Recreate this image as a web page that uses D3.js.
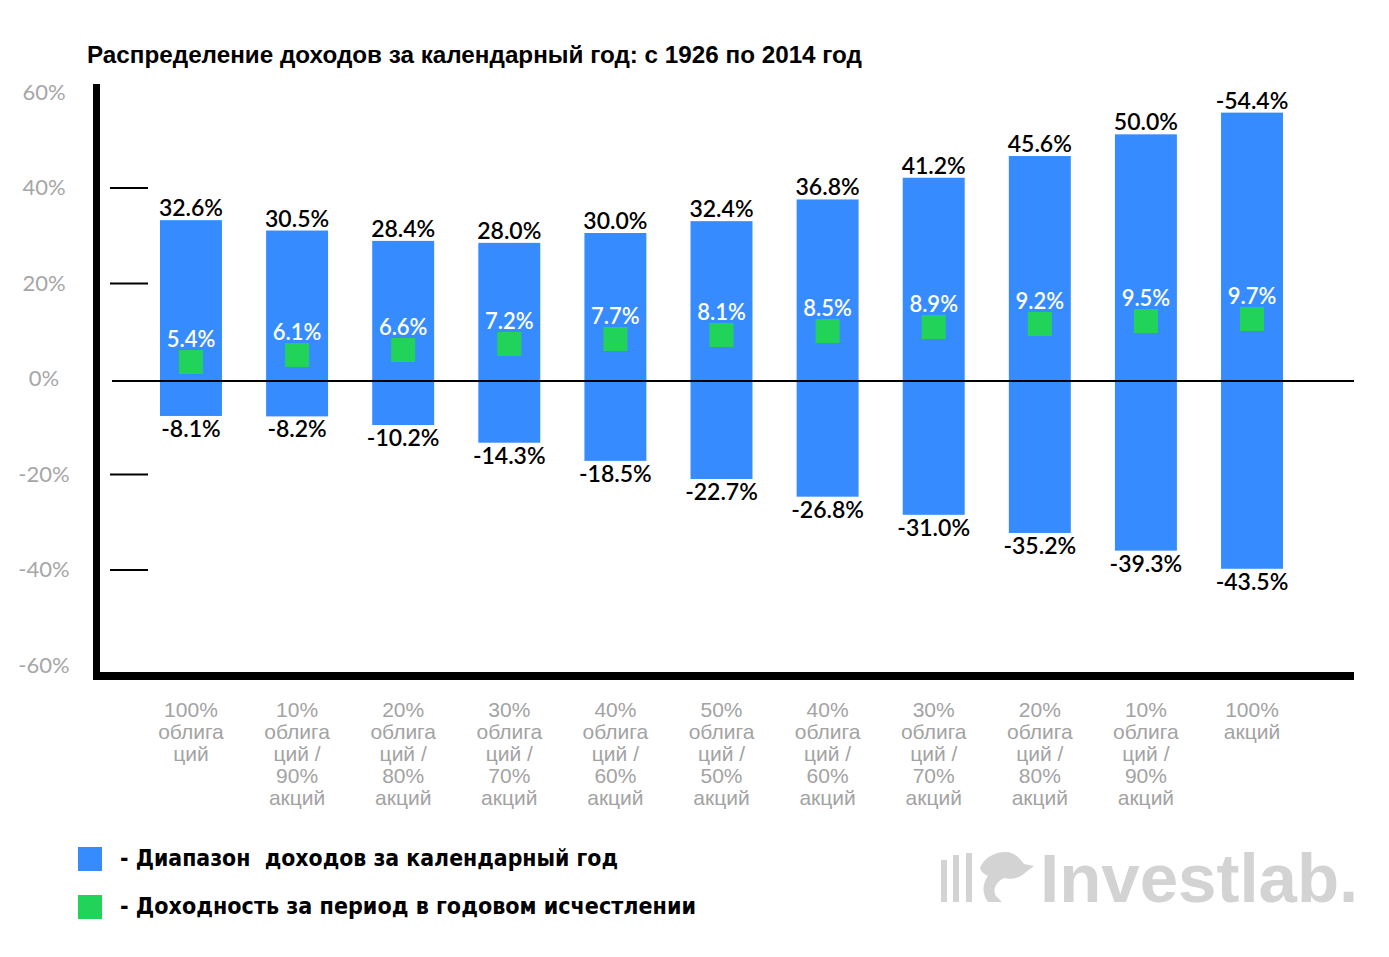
<!DOCTYPE html>
<html>
<head>
<meta charset="utf-8">
<script src="https://cdn.jsdelivr.net/npm/d3@7"></script>
<style>
  html, body { margin: 0; padding: 0; background: #fff; }
  svg { display: block; }
</style>
</head>
<body>
<div id="chart"></div>
<script>
'use strict';

// --- data ---
const categories = [
  ['100%', 'облига', 'ций'],
  ['10%', 'облига', 'ций /', '90%', 'акций'],
  ['20%', 'облига', 'ций /', '80%', 'акций'],
  ['30%', 'облига', 'ций /', '70%', 'акций'],
  ['40%', 'облига', 'ций /', '60%', 'акций'],
  ['50%', 'облига', 'ций /', '50%', 'акций'],
  ['40%', 'облига', 'ций /', '60%', 'акций'],
  ['30%', 'облига', 'ций /', '70%', 'акций'],
  ['20%', 'облига', 'ций /', '80%', 'акций'],
  ['10%', 'облига', 'ций /', '90%', 'акций'],
  ['100%', 'акций']
];
const highs = [32.6, 30.5, 28.4, 28.0, 30.0, 32.4, 36.8, 41.2, 45.6, 50.0, 54.4];
const lows = [-8.1, -8.2, -10.2, -14.3, -18.5, -22.7, -26.8, -31.0, -35.2, -39.3, -43.5];
const averages = [5.4, 6.1, 6.6, 7.2, 7.7, 8.1, 8.5, 8.9, 9.2, 9.5, 9.7];
// the original prints the last top value with a minus sign
const highLabels = ['32.6%', '30.5%', '28.4%', '28.0%', '30.0%', '32.4%', '36.8%', '41.2%', '45.6%', '50.0%', '-54.4%'];
const yTicks = [60, 40, 20, 0, -20, -40, -60];
const yMarks = [40, 20, -20, -40];

const title = 'Распределение доходов за календарный год: с 1926 по 2014 год';
const legendItems = [
  { color: '#368cff', text: '- Диапазон  доходов за календарный год' },
  { color: '#22d35a', text: '- Доходность за период в годовом исчестлении' }
];

const W = 1389, H = 957;
const BLUE = '#368cff', GREEN = '#22d35a';
const pct = (v) => v.toFixed(1) + '%';

const svg = d3.select('#chart').append('svg')
  .attr('width', W).attr('height', H);

const idx = d3.range(categories.length);

// scales
const x = d3.scaleBand().domain(idx).range([160, 1283])
  .paddingInner(0.416).paddingOuter(0);
// the picture is drawn with different steps above and below zero
const yBar = d3.scaleLinear().domain([-60, 0, 60]).range([640, 381, 85]);
const yAxisScale = d3.scaleLinear().domain([-60, 60]).range([665, 92]);
// green markers sit on their own (steeper) step in the original
const yAvg = d3.scaleLinear().domain([0, 10]).range([416, 316]);

// title
svg.append('text')
  .attr('x', 87).attr('y', 63)
  .attr('font-family', 'Liberation Sans, Arial, sans-serif')
  .attr('font-weight', 'bold')
  .attr('font-size', 24)
  .attr('textLength', 775)
  .attr('lengthAdjust', 'spacingAndGlyphs')
  .attr('fill', '#000')
  .text(title);

// gray y labels
const yLab = svg.append('g').attr('transform', 'translate(44,0)')
  .call(d3.axisLeft(yAxisScale).tickValues(yTicks).tickSize(0)
    .tickFormat((d) => d + '%'));
yLab.select('.domain').remove();
yLab.selectAll('text')
  .attr('x', 0)
  .attr('text-anchor', 'middle')
  .attr('font-family', 'Lato, sans-serif')
  .attr('font-size', 22)
  .attr('fill', '#a6a6a6');

// short tick marks
const yTk = svg.append('g').attr('transform', 'translate(110,0)')
  .call(d3.axisRight(yAxisScale).tickValues(yMarks).tickSize(38).tickFormat(''));
yTk.select('.domain').remove();
yTk.selectAll('line').attr('stroke', '#000').attr('stroke-width', 2);

// bars
svg.append('g').selectAll('rect')
  .data(idx).enter().append('rect')
  .attr('x', (i) => x(i))
  .attr('width', x.bandwidth())
  .attr('y', (i) => yBar(highs[i]))
  .attr('height', (i) => yBar(lows[i]) - yBar(highs[i]))
  .attr('fill', BLUE);

// zero line
svg.append('line')
  .attr('x1', 112).attr('x2', 1354)
  .attr('y1', yBar(0)).attr('y2', yBar(0))
  .attr('stroke', '#000').attr('stroke-width', 2);

// average markers
const sq = 24;
svg.append('g').selectAll('rect')
  .data(idx).enter().append('rect')
  .attr('x', (i) => x(i) + x.bandwidth() / 2 - sq / 2)
  .attr('y', (i) => yAvg(averages[i]) - sq / 2)
  .attr('width', sq).attr('height', sq)
  .attr('fill', GREEN);

const valueText = (sel) => sel
  .attr('text-anchor', 'middle')
  .attr('font-family', 'Lato, sans-serif')
  .attr('font-weight', 600)
  .attr('font-size', 23);

const labels = svg.append('g');
labels.selectAll('.hi').data(idx).enter().append('text').attr('class', 'hi')
  .call(valueText)
  .attr('x', (i) => x(i) + x.bandwidth() / 2)
  .attr('y', (i) => yBar(highs[i]) - 4)
  .attr('fill', '#000')
  .text((i) => highLabels[i]);

labels.selectAll('.lo').data(idx).enter().append('text').attr('class', 'lo')
  .call(valueText)
  .attr('x', (i) => x(i) + x.bandwidth() / 2)
  .attr('y', (i) => yBar(lows[i]) + 21)
  .attr('fill', '#000')
  .text((i) => pct(lows[i]));

labels.selectAll('.avg').data(idx).enter().append('text').attr('class', 'avg')
  .call(valueText)
  .attr('font-size', 22)
  .attr('x', (i) => x(i) + x.bandwidth() / 2)
  .attr('y', (i) => yAvg(averages[i]) - sq / 2 - 3)
  .attr('fill', '#fff')
  .text((i) => pct(averages[i]));

// frame axes (thick)
svg.append('line')
  .attr('x1', 96.5).attr('x2', 96.5).attr('y1', 84).attr('y2', 680)
  .attr('stroke', '#000').attr('stroke-width', 7);
svg.append('line')
  .attr('x1', 93).attr('x2', 1354).attr('y1', 676).attr('y2', 676)
  .attr('stroke', '#000').attr('stroke-width', 8);

// category labels
const catG = svg.append('g').selectAll('text')
  .data(idx).enter().append('text')
  .attr('text-anchor', 'middle')
  .attr('font-family', 'Liberation Sans, Arial, sans-serif')
  .attr('font-size', 21)
  .attr('fill', '#a3a3a3')
  .attr('transform', (i) => `translate(${x(i) + x.bandwidth() / 2},717)`);
catG.selectAll('tspan')
  .data((i) => categories[i]).enter().append('tspan')
  .attr('x', 0)
  .attr('y', (d, j) => j * 22)
  .text((d) => d);

// legend
const legend = svg.append('g').attr('transform', 'translate(78,847)');
const lg = legend.selectAll('g').data(legendItems).enter().append('g')
  .attr('transform', (d, i) => `translate(0,${i * 48})`);
lg.append('rect').attr('width', 24).attr('height', 24)
  .attr('fill', (d) => d.color);
lg.append('text')
  .attr('x', 42).attr('y', 19)
  .attr('font-family', 'Liberation Sans Narrow, DejaVu Sans Condensed, Liberation Sans, sans-serif')
  .attr('font-weight', 'bold')
  .attr('font-size', 23)
  .attr('fill', '#000')
  .style('white-space', 'pre')
  .attr('textLength', (d, i) => (i === 0 ? 498 : 576))
  .attr('lengthAdjust', 'spacingAndGlyphs')
  .text((d) => d.text);

// watermark logo
const logo = svg.append('g').attr('fill', '#d3d3d3');
[[941, 860], [953, 855], [966, 853]].forEach(([bx, by]) => {
  logo.append('rect').attr('x', bx).attr('y', by)
    .attr('width', 6).attr('height', 902 - by);
});
logo.append('path')
  .attr('d', 'M980,868 C984,858 994,852 1006,852 C1014,852 1020,858 1024,864 L1034,866 L1026,872 C1020,878 1012,880 1004,878 C996,882 992,890 996,896 L1002,902 L988,902 C982,894 982,884 988,876 C984,874 981,872 980,868 Z');
logo.append('text')
  .attr('x', 1040).attr('y', 902)
  .attr('font-family', 'Liberation Sans, Arial, sans-serif')
  .attr('font-weight', 'bold')
  .attr('font-size', 69)
  .text('Investlab.');
</script>
</body>
</html>
